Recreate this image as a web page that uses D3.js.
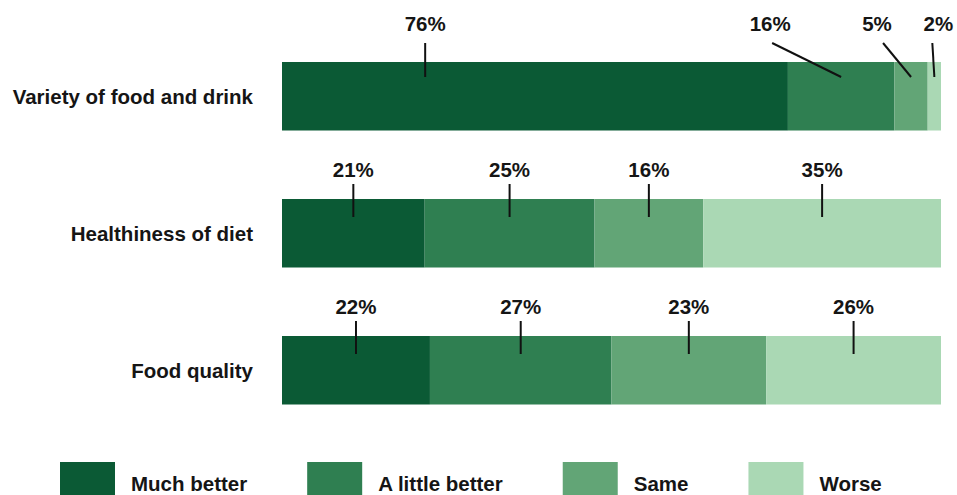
<!DOCTYPE html>
<html>
<head>
<meta charset="utf-8">
<script src="https://cdn.jsdelivr.net/npm/d3@7/dist/d3.min.js"></script>
<style>
  html, body { margin: 0; padding: 0; background: #fff; }
  svg { display: block; }
  text { font-family: "Liberation Sans", Arial, Helvetica, sans-serif; font-weight: bold; fill: #151515; }
</style>
</head>
<body>
<svg id="chart" width="957" height="495"></svg>
<script>
// Survey answers: how each aspect compares, share of respondents (%)
const categories = ["Variety of food and drink", "Healthiness of diet", "Food quality"];
const seriesNames = ["Much better", "A little better", "Same", "Worse"];
const muchBetter   = [76, 21, 22];
const littleBetter = [16, 25, 27];
const same         = [5, 16, 23];
const worse        = [2, 35, 26];

const seriesColors = ["#0b5a35", "#2f7f51", "#62a576", "#aad8b4"];

const rows = categories.map((c, i) => ({
  category: c,
  "Much better": muchBetter[i],
  "A little better": littleBetter[i],
  "Same": same[i],
  "Worse": worse[i]
}));

const W = 957, H = 495;
const svg = d3.select("#chart");

// Each bar spans the full width; segments are shares of the row total
const stack = d3.stack().keys(seriesNames).offset(d3.stackOffsetExpand);
const layers = stack(rows);

const x = d3.scaleLinear().domain([0, 1]).range([282, 941]);
const y = d3.scaleBand().domain(categories).range([62, 404.5]).paddingInner(0.5).paddingOuter(0);
const color = d3.scaleOrdinal().domain(seriesNames).range(seriesColors);

// Callout geometry relative to the bar top; the crowded first row gets
// raised labels and slanted leaders
const calloutDefault = { base: -22, lineTop: -15, lineBottom: 18 };
const calloutCrowded = {
  "Variety of food and drink": {
    base: -31, lineTop: -19, lineBottom: 15,
    anchor: [0.283, 0.5, 0.5, 0.5],
    lean:   [0, -69, -28, -2],
    nudge:  [0, -2, -6, 6]
  }
};

// Bars
const g = svg.append("g");
layers.forEach((layer, si) => {
  g.selectAll(null)
    .data(layer)
    .join("rect")
    .attr("x", d => x(d[0]))
    .attr("y", d => y(d.data.category))
    .attr("width", d => x(d[1]) - x(d[0]))
    .attr("height", y.bandwidth())
    .attr("fill", color(layer.key));
});

// Category labels
svg.append("g")
  .selectAll("text")
  .data(categories)
  .join("text")
  .attr("x", 253)
  .attr("y", d => y(d) + y.bandwidth() / 2 + 7.5)
  .attr("text-anchor", "end")
  .style("font-size", "20.5px")
  .text(d => d);

// Value callouts with leader lines
const callouts = [];
layers.forEach((layer, si) => {
  layer.forEach(d => {
    const cat = d.data.category;
    const tw = calloutCrowded[cat] || {};
    const geo = Object.assign({}, calloutDefault, tw);
    const anchor = tw.anchor ? tw.anchor[si] : 0.5;
    const lean = tw.lean ? tw.lean[si] : 0;
    const nudge = tw.nudge ? tw.nudge[si] : 0;
    const x0 = x(d[0]), x1 = x(d[1]);
    const bx = x0 + (x1 - x0) * anchor;
    const top = y(cat);
    callouts.push({
      value: d.data[layer.key],
      x1: bx, y1: top + geo.lineBottom,
      x2: bx + lean, y2: top + geo.lineTop,
      tx: bx + lean + nudge, ty: top + geo.base
    });
  });
});

const cg = svg.append("g");
cg.selectAll("line")
  .data(callouts)
  .join("line")
  .attr("x1", d => d.x1).attr("y1", d => d.y1)
  .attr("x2", d => d.x2).attr("y2", d => d.y2)
  .attr("stroke", "#111")
  .attr("stroke-width", 2);

cg.selectAll("text")
  .data(callouts)
  .join("text")
  .attr("x", d => d.tx)
  .attr("y", d => d.ty)
  .attr("text-anchor", "middle")
  .style("font-size", "20.5px")
  .text(d => d.value + "%");

// Legend, laid out left to right
const legend = svg.append("g");
let lx = 60;
seriesNames.forEach((name, i) => {
  legend.append("rect")
    .attr("x", lx).attr("y", 462)
    .attr("width", 55).attr("height", 36)
    .attr("fill", color(name));
  const t = legend.append("text")
    .attr("x", lx + 71)
    .attr("y", 491)
    .style("font-size", "20.5px")
    .text(name);
  lx = lx + 71 + t.node().getComputedTextLength() + 60;
});
</script>
</body>
</html>
